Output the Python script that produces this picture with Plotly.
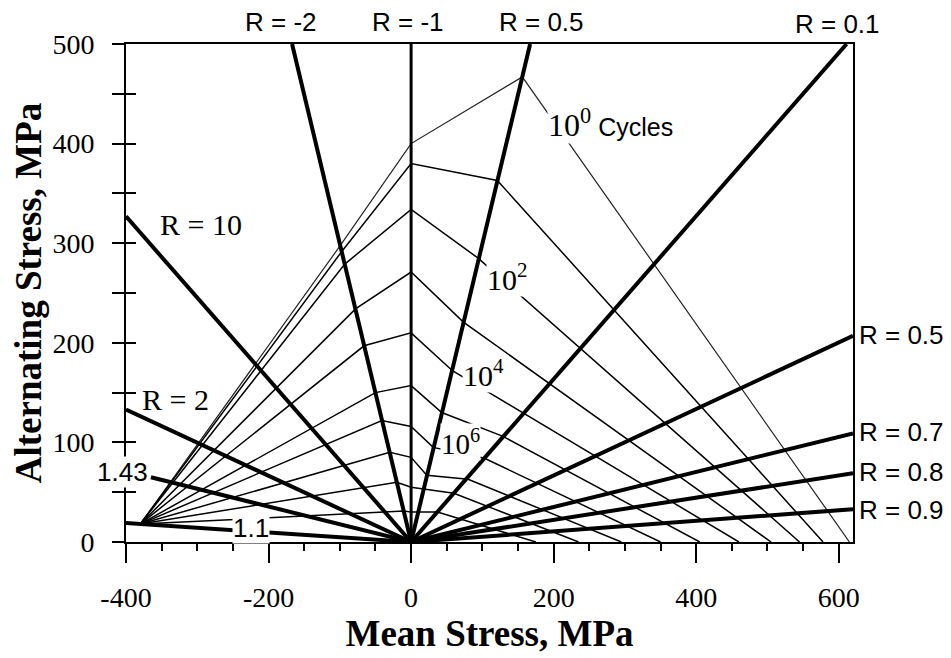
import plotly.graph_objects as go

SERIF = "Liberation Serif"
SANS = "Liberation Sans"

# ---------------- data (MPa) ----------------
# constant-life curves: vertices (mean stress, alternating stress)
n0_mean = [-380, -99, 0, 156, 615]
n0_alt = [18, 298, 400, 467, 0]
n1_mean = [-380, -97, 0, 121, 578]
n1_alt = [18, 292, 380, 363, 0]
n2_mean = [-380, -93, 0, 94, 545]
n2_alt = [18, 279, 334, 285, 0]
n3_mean = [-380, -78, 0, 73, 505]
n3_alt = [18, 234, 271, 221, 0]
n4_mean = [-380, -66, 0, 58, 460]
n4_alt = [18, 197, 210, 172, 0]
n5_mean = [-380, -50, 0, 43, 129, 405]
n5_alt = [18, 150, 157, 130, 106, 0]
n6_mean = [-380, -41, 0, 31, 103, 350]
n6_alt = [18, 122, 116, 95, 84, 0]
n7_mean = [-380, -30, 0, 22, 80, 295]
n7_alt = [18, 90, 85, 67, 63, 0]
n8_mean = [-380, -20, 0, 60, 235]
n8_alt = [18, 60, 55, 49, 0]
n9_mean = [-380, -10, 0, 37, 175]
n9_alt = [18, 31, 30, 30, 0]

# R-ratio lines: outer end point (the other end is the origin)
r_names = ["-2", "-1", "-0.5", "0.1", "0.5", "0.7", "0.8", "0.9", "10", "2", "1.43", "1.1"]
r_end_mean = [-167, 0, 167, 611, 620, 620, 620, 620, -400, -400, -365, -400]
r_end_alt = [500, 500, 500, 500, 207, 109, 69, 33, 327, 133, 65, 19]

# x / y ticks
x_ticks = [-400, -200, 0, 200, 400, 600]
x_tick_text = ["-400", "-200", "0", "200", "400", "600"]
y_ticks = [0, 100, 200, 300, 400, 500]
y_minor_ticks = [0, 50, 100, 150, 200, 250, 300, 350, 400, 450, 500]

curves_mean = [n0_mean, n1_mean, n2_mean, n3_mean, n4_mean, n5_mean, n6_mean, n7_mean, n8_mean, n9_mean]
curves_alt = [n0_alt, n1_alt, n2_alt, n3_alt, n4_alt, n5_alt, n6_alt, n7_alt, n8_alt, n9_alt]

fig = go.Figure()

for i, (xm, ya) in enumerate(zip(curves_mean, curves_alt)):
    fig.add_trace(go.Scatter(
        x=xm, y=ya, mode="lines",
        line=dict(color="#222222" if i == 0 else "black", width=1.2 if i == 0 else 1.5),
        hoverinfo="skip", showlegend=False))

for name, xm, ya in zip(r_names, r_end_mean, r_end_alt):
    fig.add_trace(go.Scatter(
        x=[xm, 0], y=[ya, 0], mode="lines",
        line=dict(color="black", width=3 if name == "-1" else 4),
        hoverinfo="skip", showlegend=False))

# invisible trace for the inner tick axis
fig.add_trace(go.Scatter(x=[0], y=[0], yaxis="y2", mode="markers",
                         marker=dict(opacity=0), hoverinfo="skip", showlegend=False))

ann = []


def add(text, x, y, font, size, xanchor="center", yanchor="middle", bg=None, ref="data"):
    d = dict(text=text, x=x, y=y, showarrow=False,
             font=dict(family=font, size=size, color="black"),
             xanchor=xanchor, yanchor=yanchor)
    if ref == "data":
        d["xref"], d["yref"] = "x", "y"
    else:
        d["xref"], d["yref"] = "paper", "paper"
    if bg:
        d["bgcolor"] = bg
        d["borderpad"] = 0
    ann.append(d)


# top R labels (paper coordinates, above the frame)
add("R = -2", 0.213, 1.044, SANS, 26, ref="paper")
add("R = -1", 0.388, 1.044, SANS, 26, ref="paper")
add("R = 0.5", 0.571, 1.044, SANS, 26, ref="paper")
add("R = 0.1", 0.979, 1.040, SANS, 26, ref="paper")
# right R labels
add("R = 0.5", 1.006, 0.416, SANS, 26, xanchor="left", ref="paper")
add("R = 0.7", 1.006, 0.221, SANS, 26, xanchor="left", ref="paper")
add("R = 0.8", 1.006, 0.141, SANS, 26, xanchor="left", ref="paper")
add("R = 0.9", 1.006, 0.064, SANS, 26, xanchor="left", ref="paper")
# left labels
add("R = 10", -295, 319, SERIF, 30)
add("R = 2", -330, 143, SERIF, 30)
add("1.43", -0.0055, 0.141, SANS, 26, bg="white", ref="paper")
add("1.1", -224, 14, SANS, 26, bg="white")
# cycle labels
add('10<sup>0</sup><span style="font-family:Liberation Sans;font-size:25px"> Cycles</span>',
    191, 421, SERIF, 32, xanchor="left", bg="white")
add("10<sup>2</sup>", 135, 266, SERIF, 30, bg="white")
add("10<sup>4</sup>", 101, 170, SERIF, 30, bg="white")
add("10<sup>6</sup>", 69, 100, SERIF, 29, bg="white")

# the page body adds an 8 px offset, so the figure is 8 px smaller each way
fig.update_layout(
    width=943, height=650,
    margin=dict(l=118, r=98, t=36, b=116),
    paper_bgcolor="white", plot_bgcolor="white",
    showlegend=False,
    annotations=ann,
    xaxis=dict(
        range=[-400, 620], tickvals=x_ticks, ticktext=x_tick_text,
        ticks="outside", ticklen=19, tickwidth=1.5, tickcolor="black",
        minor=dict(dtick=50, tick0=0, ticks="outside", ticklen=7, tickwidth=1.5, tickcolor="black"),
        showline=True, linewidth=2, linecolor="black", mirror=True,
        showgrid=False, zeroline=False, automargin=False,
        tickfont=dict(family=SERIF, size=28, color="black"),
        ticklabelstandoff=10,
        title=dict(text="Mean Stress, MPa", font=dict(family=SERIF, size=37, color="black", weight="bold"),
                   standoff=8),
    ),
    yaxis=dict(
        range=[0, 500], tickvals=y_ticks,
        ticks="outside", ticklen=12, tickwidth=1.5, tickcolor="black",
        minor=dict(dtick=50, tick0=0, ticks="outside", ticklen=12, tickwidth=1.5, tickcolor="black"),
        showline=True, linewidth=2, linecolor="black", mirror=True,
        showgrid=False, zeroline=False, automargin=False,
        tickfont=dict(family=SERIF, size=28, color="black"),
        ticklabelstandoff=12,
        title=dict(text="Alternating Stress, MPa", font=dict(family=SERIF, size=37, color="black", weight="bold"),
                   standoff=16),
    ),
    yaxis2=dict(
        range=[0, 500], overlaying="y", side="left", tickvals=y_minor_ticks,
        ticks="inside", ticklen=10, tickwidth=1.5, tickcolor="black",
        showticklabels=False, showline=False, showgrid=False, zeroline=False, automargin=False,
    ),
)

fig.write_html("out.html")
